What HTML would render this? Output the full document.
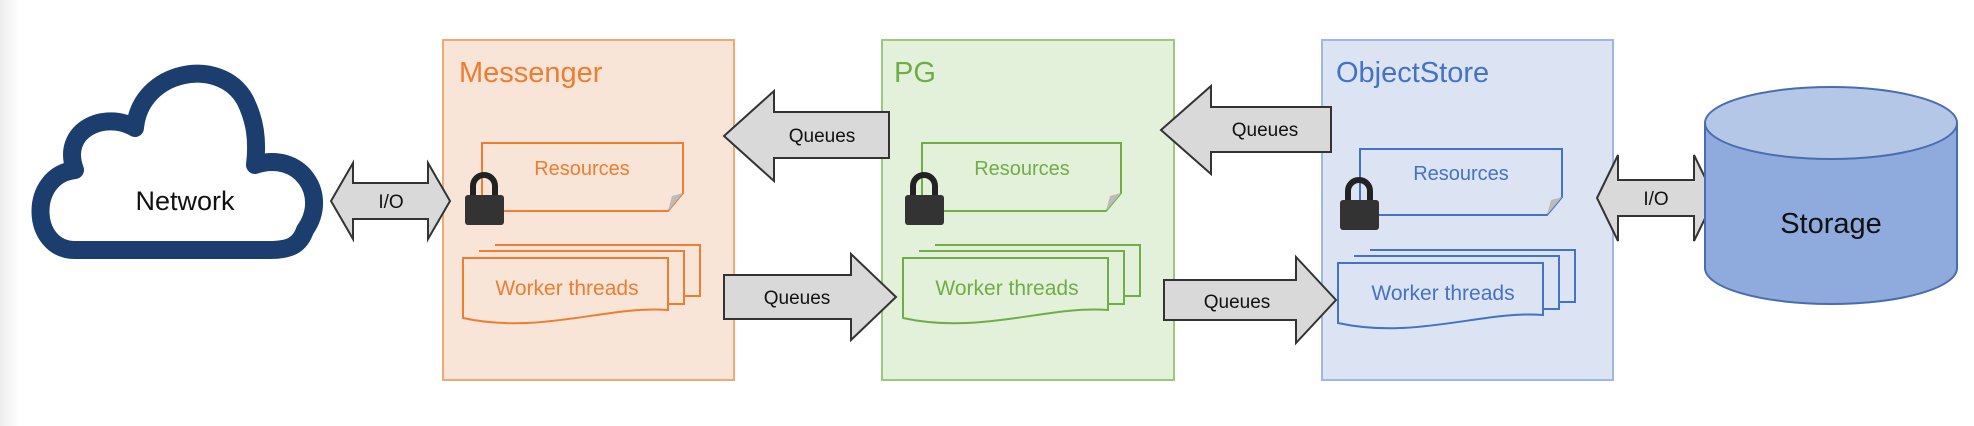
<!DOCTYPE html>
<html><head><meta charset="utf-8"><style>
html,body{margin:0;padding:0;background:#fff;width:1974px;height:426px;overflow:hidden}
text{font-family:"Liberation Sans",sans-serif}
</style></head><body>
<svg width="1974" height="426" viewBox="0 0 1974 426" xmlns="http://www.w3.org/2000/svg">
<defs>
<linearGradient id="lg" x1="0" x2="1"><stop offset="0" stop-color="#eeeeee"/><stop offset="1" stop-color="#ffffff"/></linearGradient>
<g id="lock">
<path d="M8 22 V13 a11 11 0 0 1 22 0 V22" fill="none" stroke="#222" stroke-width="6"/>
<rect x="0" y="22" width="39" height="30" rx="3" fill="#333"/>
</g>
</defs>
<rect x="0" y="0" width="20" height="426" fill="url(#lg)"/>

<!-- Cloud -->
<path d="M75 250 C30 250 28 175 75 170 C60 130 105 110 135 128 C140 70 220 55 245 100 C255 120 258 140 255 165 C300 150 330 195 305 230 C300 245 290 250 270 250 Z" fill="#fff" stroke="#1b3e6e" stroke-width="18" stroke-linejoin="round"/>
<text x="185" y="210" font-size="27" text-anchor="middle" fill="#111">Network</text>

<!-- Boxes -->
<rect x="443" y="40" width="291" height="340" fill="#f9e5d8" stroke="#f0a875" stroke-width="2"/>
<rect x="882" y="40" width="292" height="340" fill="#e3f0da" stroke="#9cc97f" stroke-width="2"/>
<rect x="1322" y="40" width="291" height="340" fill="#dce4f3" stroke="#9db7e6" stroke-width="2"/>
<text x="459" y="82" font-size="29" fill="#ed7d31">Messenger</text>
<text x="894" y="82" font-size="29" fill="#70ad47">PG</text>
<text x="1336" y="82" font-size="29" fill="#4472c4">ObjectStore</text>

<!-- Resources docs -->
<g fill="none" stroke-width="2">
<path d="M482 143 H683 V193 L668 211 H482 Z" stroke="#ed7d31"/>
<path d="M922 143 H1121 V193 L1106 211 H922 Z" stroke="#70ad47"/>
<path d="M1360 149 H1562 V197 L1547 215 H1360 Z" stroke="#4472c4"/>
</g>
<path d="M683 193 L668 211 L672 196 Z" fill="#bbb"/>
<path d="M1121 193 L1106 211 L1110 196 Z" fill="#bbb"/>
<path d="M1562 197 L1547 215 L1551 200 Z" fill="#bbb"/>
<text x="582" y="175" font-size="20" text-anchor="middle" fill="#ed7d31">Resources</text>
<text x="1022" y="175" font-size="20" text-anchor="middle" fill="#70ad47">Resources</text>
<text x="1461" y="180" font-size="20" text-anchor="middle" fill="#4472c4">Resources</text>

<!-- locks -->
<use href="#lock" x="465" y="173"/>
<use href="#lock" x="905" y="173"/>
<use href="#lock" x="1340" y="178"/>

<!-- worker threads -->
<g fill="none" stroke-width="2">
<g stroke="#ed7d31">
<path d="M495 245 H700 V296 H684"/>
<path d="M479 251 H684 V304 H668"/>
<path d="M463 258 H668 V310 C610 305 540 335 463 318 Z" fill="#f9e5d8"/>
</g>
<g stroke="#70ad47">
<path d="M935 245 H1140 V296 H1124"/>
<path d="M919 251 H1124 V304 H1108"/>
<path d="M903 258 H1108 V310 C1050 305 980 335 903 318 Z" fill="#e3f0da"/>
</g>
<g stroke="#4472c4">
<path d="M1370 250 H1575 V302 H1559"/>
<path d="M1354 256 H1559 V309 H1543"/>
<path d="M1338 263 H1543 V315 C1485 310 1415 340 1338 323 Z" fill="#dce4f3"/>
</g>
</g>
<text x="567" y="295" font-size="21" text-anchor="middle" fill="#ed7d31">Worker threads</text>
<text x="1007" y="295" font-size="21" text-anchor="middle" fill="#70ad47">Worker threads</text>
<text x="1443" y="300" font-size="21" text-anchor="middle" fill="#4472c4">Worker threads</text>

<!-- arrows -->
<g fill="#d9d9d9" stroke="#333" stroke-width="2" stroke-linejoin="miter">
<path d="M331 201 L353 163 V183 H428 V163 L450 201 L428 239 V219 H353 V239 Z"/>
<path d="M1597 198 L1618 155 V180 H1694 V155 L1715 198 L1694 241 V216 H1618 V241 Z"/>
<path d="M724 136 L774 91 V112 H889 V158 H774 V181 Z"/>
<path d="M1161 130 L1211 86 V107 H1331 V152 H1211 V174 Z"/>
<path d="M724 275 H851 V254 L896 297 L851 340 V319 H724 Z"/>
<path d="M1164 280 H1296 V257 L1336 300 L1296 343 V320 H1164 Z"/>
</g>
<g font-size="19" fill="#111" text-anchor="middle">
<text x="391" y="208">I/O</text>
<text x="1656" y="205">I/O</text>
<text x="822" y="142">Queues</text>
<text x="1265" y="136">Queues</text>
<text x="797" y="304">Queues</text>
<text x="1237" y="308">Queues</text>
</g>

<!-- Cylinder -->
<path d="M1705 123 V268 A126 36 0 0 0 1957 268 V123" fill="#8faadc" stroke="#4a6db0" stroke-width="2"/>
<ellipse cx="1831" cy="123" rx="126" ry="36" fill="#b4c7e7" stroke="#4a6db0" stroke-width="2"/>
<text x="1831" y="233" font-size="29" text-anchor="middle" fill="#111">Storage</text>
</svg>
</body></html>
